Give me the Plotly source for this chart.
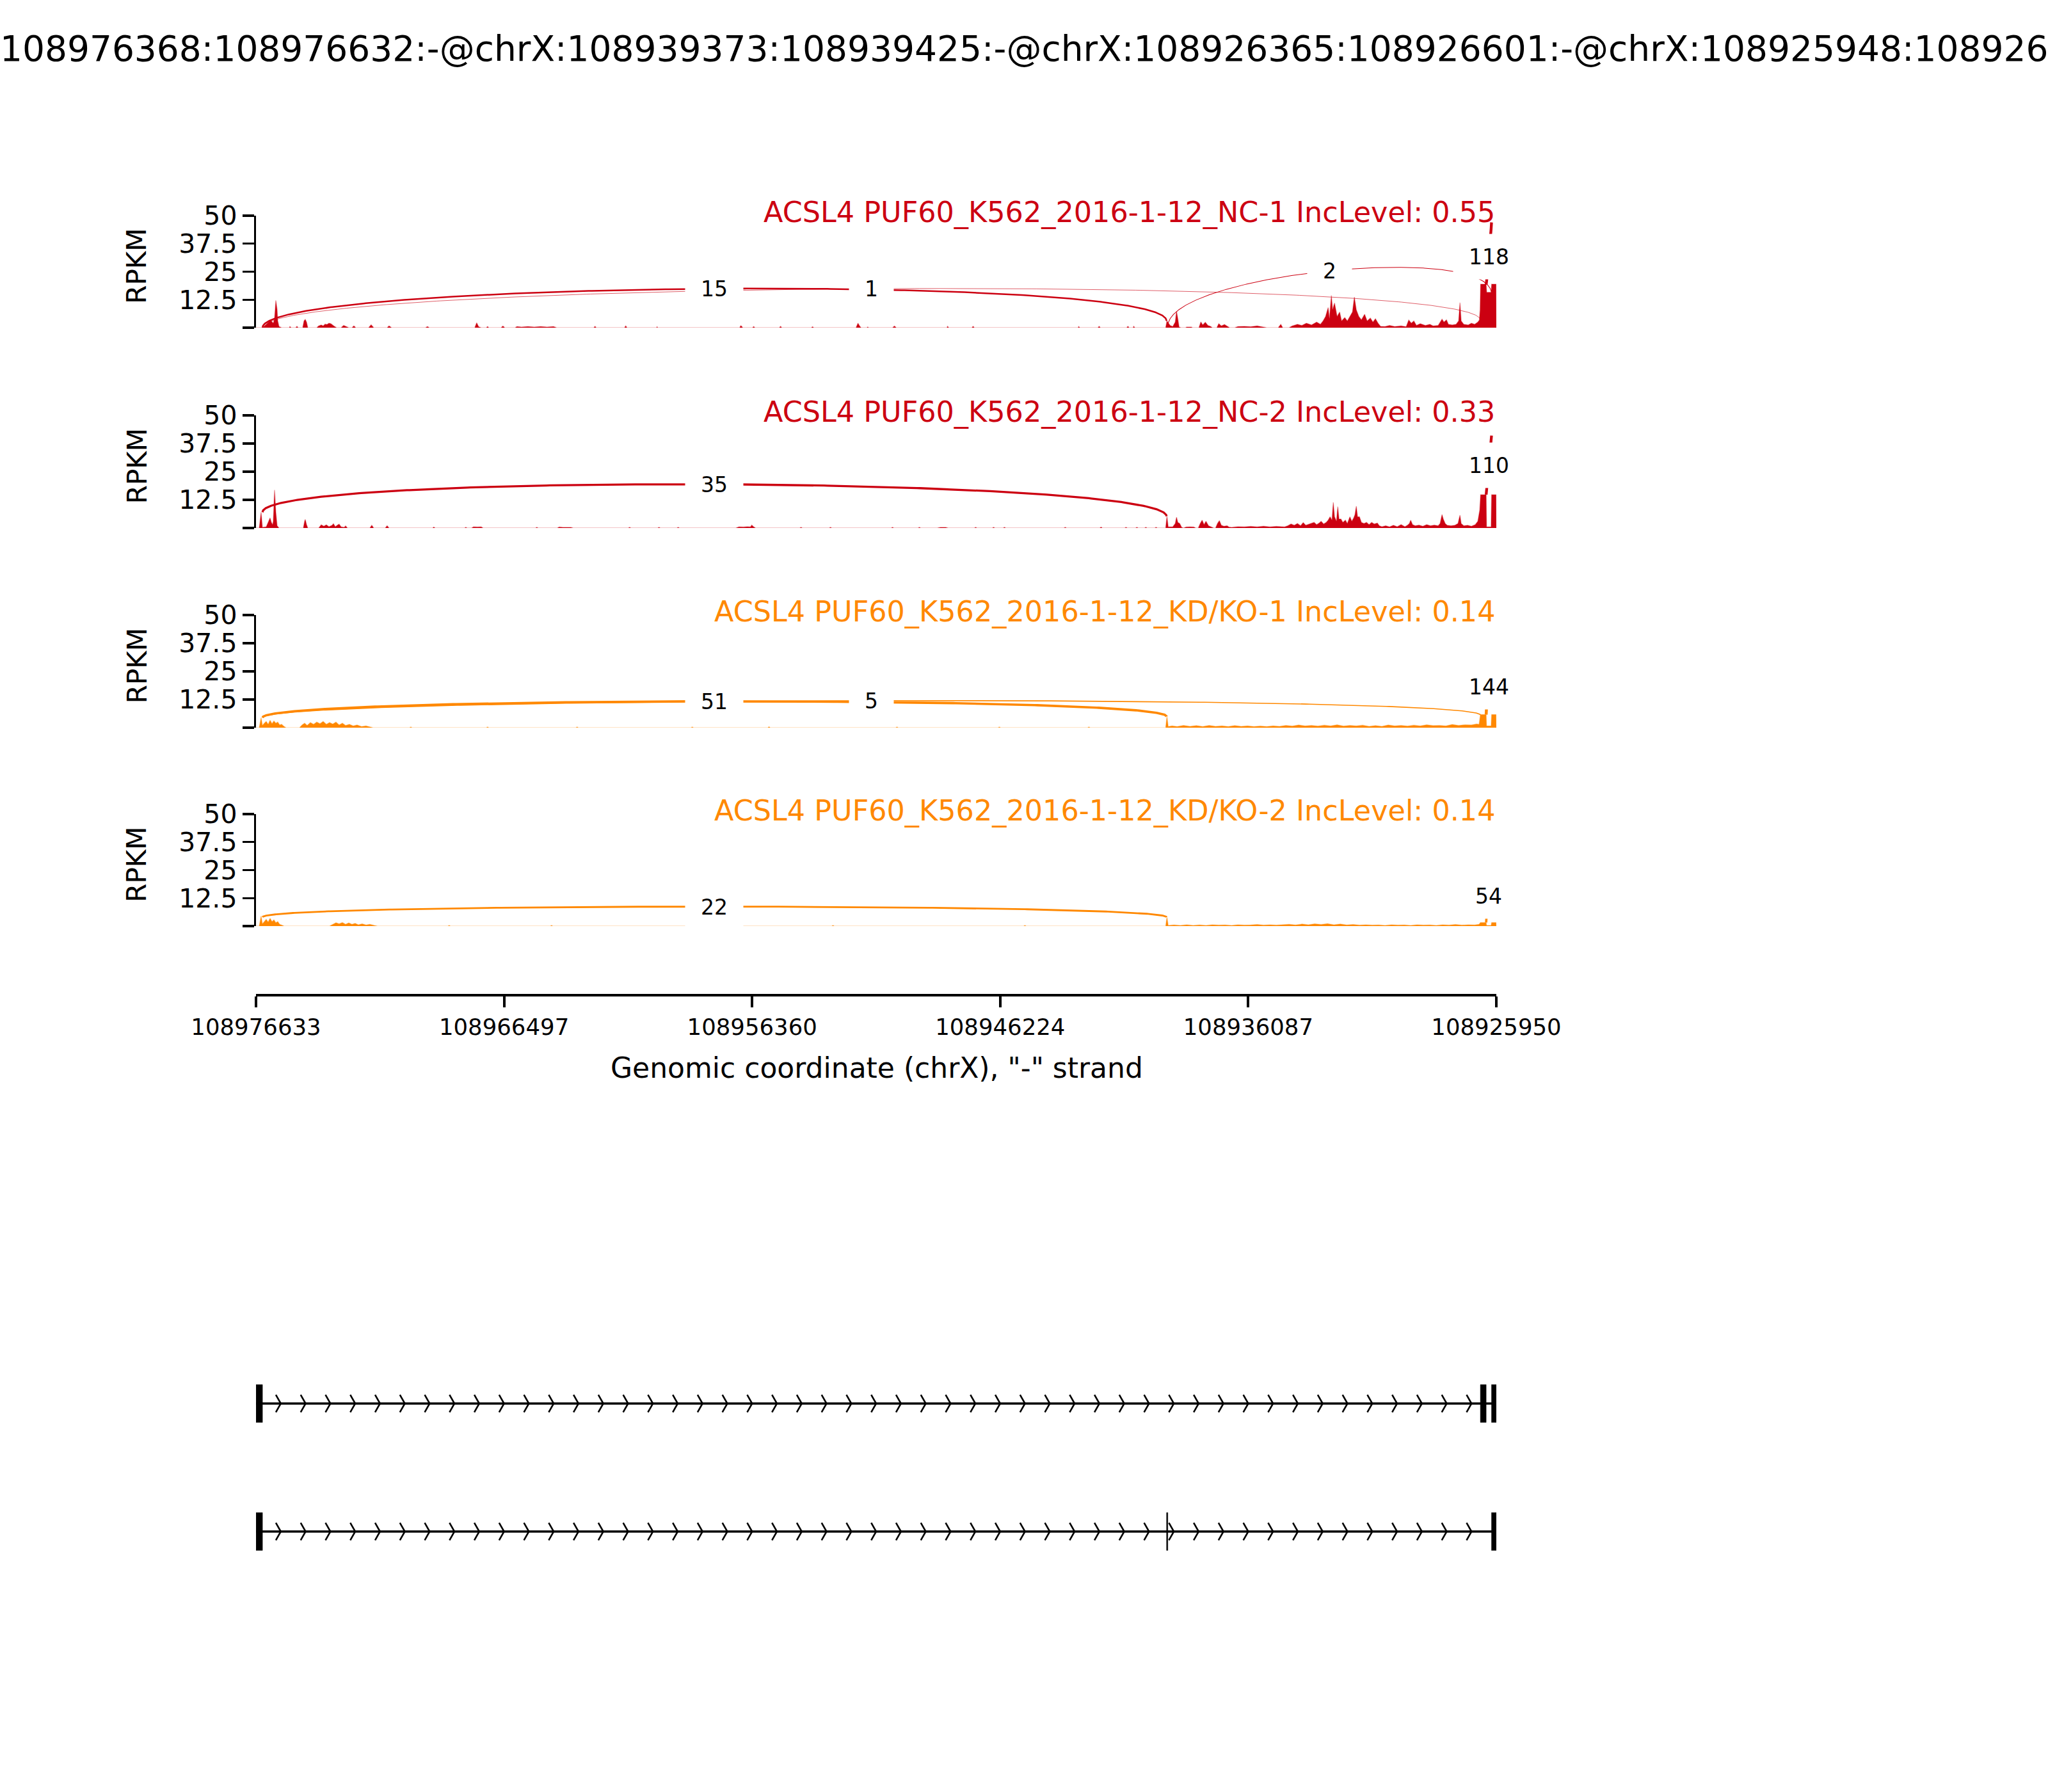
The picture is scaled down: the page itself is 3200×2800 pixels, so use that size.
import numpy as np
import plotly.graph_objects as go

W, H = 3200, 2800
FONT = "DejaVu Sans"

# ---------------- data ----------------
region_left = 108976633      # left end of the (reversed, "-" strand) axis
region_right = 108925950

event_title = ("chrX:108976368:108976632:-@chrX:108939373:108939425:-@"
               "chrX:108926365:108926601:-@chrX:108925948:108926146:-")
x_tick_values = [108976633, 108966497, 108956360, 108946224, 108936087, 108925950]
x_tick_labels = [str(v) for v in x_tick_values]
y_tick_values = [0, 12.5, 25, 37.5, 50]
y_tick_labels = ["", "12.5", "25", "37.5", "50"]
x_label = 'Genomic coordinate (chrX), "-" strand'
y_label = "RPKM"

sample_titles = [
    "ACSL4 PUF60_K562_2016-1-12_NC-1 IncLevel: 0.55",
    "ACSL4 PUF60_K562_2016-1-12_NC-2 IncLevel: 0.33",
    "ACSL4 PUF60_K562_2016-1-12_KD/KO-1 IncLevel: 0.14",
    "ACSL4 PUF60_K562_2016-1-12_KD/KO-2 IncLevel: 0.14",
]
sample_colors = ["#CC0011", "#CC0011", "#FF8800", "#FF8800"]
sample_edge = ["rgba(204,0,17,0.3)", "rgba(204,0,17,0.3)",
               "rgba(255,136,0,0.3)", "rgba(255,136,0,0.3)"]

# coverage: (bp offset from region_left, RPKM)
cov_nc1 = [
    (0, 0), (261, 0), (366, 1.0), (471, 2.2), (549, 2.8), (601, 3.3), (654, 2.5), (706, 2.0),
    (758, 4.0), (810, 12.2), (863, 8.0), (889, 3.0), (941, 0.5), (1046, 0),
    (1359, 0), (1385, 0.5), (1438, 0), (1621, 0), (1673, 0.6), (1725, 0),
    (1908, 0), (1961, 3.0), (2013, 3.7), (2065, 2.5), (2117, 0),
    (2483, 0), (2562, 0.8), (2666, 1.2), (2745, 0.8), (2823, 1.6), (2902, 1.4), (2980, 2.0),
    (3058, 1.8), (3137, 1.0), (3215, 0.5), (3294, 0),
    (3477, 0), (3581, 1.0), (3686, 0.6), (3790, 0), (3921, 0), (3999, 0.8), (4078, 0),
    (4601, 0), (4705, 1.3), (4810, 0), (5359, 0), (5437, 0.8), (5542, 0),
    (6927, 0), (7006, 0.5), (7084, 0), (8940, 0), (9018, 2.2), (9097, 0.4), (9201, 0),
    (9410, 0), (9463, 0.5), (9515, 0), (10012, 0), (10090, 0.7), (10168, 0),
    (10587, 0), (10665, 0.5), (10848, 0.3), (11110, 0.5), (11371, 0.3), (11632, 0.5),
    (11894, 0.3), (12155, 0.5), (12286, 0),
    (13802, 0), (13854, 0.6), (13906, 0), (15057, 0), (15109, 0.8), (15161, 0),
    (16364, 0), (16390, 0.4), (16416, 0), (19762, 0), (19814, 0.9), (19893, 0),
    (20285, 0), (20337, 0.5), (20389, 0), (21383, 0), (21435, 0.6), (21487, 0),
    (22690, 0), (22742, 0.4), (22794, 0), (24519, 0), (24598, 2.0), (24676, 0.6), (24728, 0),
    (24964, 0), (24990, 0.3), (25042, 0), (26009, 0), (26088, 0.7), (26166, 0),
    (28231, 0), (28258, 0.6), (28310, 0), (29251, 0), (29303, 0.6), (29355, 0),
    (33590, 0), (33616, 0.5), (33668, 0), (34400, 0), (34453, 0.6), (34505, 0),
    (35577, 0), (35629, 0.6), (35681, 0), (35838, 0), (35864, 0.6), (35916, 0),
    (37171, 0), (37223, 3.0), (37354, 1.0), (37459, 0.5), (37563, 2.5), (37615, 7.4),
    (37668, 4.0), (37720, 0.3), (37798, 0),
    (37981, 0), (38034, 0.3), (38217, 0.3), (38269, 0),
    (38530, 0), (38609, 2.6), (38687, 1.2), (38792, 2.4), (38896, 1.0), (39001, 0.6), (39079, 0),
    (39262, 0), (39341, 1.8), (39445, 0.8), (39576, 1.4), (39707, 0.5), (39785, 0),
    (39994, 0), (40125, 0.5), (40386, 0.6), (40648, 0.4), (40909, 0.8), (41171, 0.4), (41301, 0),
    (41772, 0), (41876, 1.5), (41955, 0),
    (42216, 0), (42347, 0.8), (42556, 1.5), (42739, 1.0), (42922, 2.0), (43131, 1.2),
    (43340, 2.5), (43497, 1.5), (43602, 3.0), (43706, 5.0), (43811, 9.0), (43863, 4.0),
    (43942, 14.4), (43994, 8.0), (44072, 11.0), (44177, 5.0), (44281, 7.0), (44360, 3.0),
    (44490, 4.5), (44595, 3.0), (44699, 5.0), (44804, 7.0), (44882, 13.7), (44961, 8.0),
    (45065, 5.0), (45170, 3.5), (45301, 6.0), (45405, 3.0), (45536, 4.3), (45640, 2.5),
    (45745, 4.0), (45850, 2.0), (45954, 0.6),
    (46137, 0.5), (46320, 1.0), (46529, 0.5), (46791, 0.8), (46999, 0.4), (47104, 3.4),
    (47209, 2.0), (47313, 3.0), (47418, 1.0), (47575, 1.8), (47784, 1.0), (47967, 1.5),
    (48098, 0.8), (48307, 1.0), (48464, 3.8), (48542, 2.5), (48647, 3.5), (48725, 1.5),
    (48882, 1.2), (49039, 1.5), (49143, 3.0), (49196, 11.2), (49248, 3.0), (49352, 1.5),
    (49535, 1.2), (49666, 2.0), (49797, 1.5), (49927, 2.5), (49990, 3.4), (50020, 8.0),
    (50040, 19.4), (50268, 19.4), (50290, 15.8), (50470, 15.8), (50490, 19.4), (50675, 19.4),
    (50683, 0),
]
cov_nc2 = [
    (0, 0), (131, 0), (209, 7.0), (261, 0.3), (418, 0.5), (523, 3.0), (575, 4.5), (627, 2.5),
    (680, 1.5), (706, 3.0), (758, 16.9), (810, 7.0), (863, 1.0), (941, 0),
    (1934, 0), (1987, 3.0), (2013, 3.8), (2065, 1.5), (2117, 0),
    (2562, 0), (2666, 1.4), (2771, 0.8), (2875, 1.4), (2980, 0.6), (3111, 1.2), (3163, 1.9),
    (3241, 0.6), (3346, 1.4), (3398, 1.7), (3477, 0.5), (3607, 0.3), (3660, 0.95), (3738, 0),
    (4653, 0), (4731, 1.2), (4810, 0), (5280, 0), (5359, 1.0), (5437, 0),
    (7215, 0), (7267, 0.4), (7319, 0), (8522, 0), (8574, 0.3), (8626, 0),
    (8809, 0), (8888, 0.5), (9044, 0.4), (9201, 0.5), (9280, 0),
    (11423, 0), (11475, 0.3), (11528, 0),
    (12312, 0), (12390, 0.4), (12547, 0.3), (12704, 0.4), (12861, 0.3), (12965, 0),
    (15213, 0), (15266, 0.3), (15318, 0), (16416, 0), (16468, 0.3), (16520, 0),
    (17200, 0), (17252, 0.3), (17305, 0),
    (19605, 0), (19736, 0.5), (19919, 0.4), (20075, 0.6), (20206, 0.5), (20258, 1.3),
    (20337, 0.5), (20415, 0),
    (22219, 0), (22271, 0.3), (22324, 0), (23421, 0), (23474, 0.3), (23526, 0),
    (25957, 0), (26009, 0.3), (26061, 0), (27055, 0), (27107, 0.3), (27159, 0),
    (27839, 0), (27970, 0.3), (28179, 0.3), (28284, 0), (29355, 0), (29407, 0.3), (29460, 0),
    (30087, 0), (30139, 0.3), (30192, 0), (30532, 0), (30584, 0.3), (30636, 0),
    (33015, 0), (33067, 0.3), (33119, 0), (34478, 0), (34531, 0.4), (34583, 0),
    (35498, 0), (35550, 0.3), (35603, 0), (35943, 0), (35995, 0.3), (36048, 0),
    (36309, 0), (36361, 0.3), (36413, 0), (36727, 0), (36779, 0.3), (36832, 0),
    (37171, 0), (37223, 5.2), (37276, 0.5), (37459, 0.5), (37563, 2.0), (37615, 4.8),
    (37668, 2.5), (37746, 2.0), (37825, 0.3), (37903, 0),
    (38008, 0.4), (38165, 0.5), (38322, 0.4), (38400, 0),
    (38504, 0), (38583, 2.0), (38661, 3.5), (38740, 1.5), (38818, 3.0), (38923, 1.0),
    (39027, 0.5), (39132, 0),
    (39210, 0), (39289, 2.0), (39367, 3.3), (39445, 1.2), (39550, 0.8), (39681, 1.0), (39759, 0.4),
    (39864, 0.3), (40125, 0.6), (40386, 0.5), (40648, 0.7), (40909, 0.5), (41171, 0.8),
    (41432, 0.5), (41693, 0.7), (41876, 0.6),
    (42033, 0.5), (42164, 1.0), (42294, 1.8), (42425, 1.2), (42556, 2.0), (42686, 1.0),
    (42791, 2.4), (42896, 1.2), (42974, 1.5), (43105, 2.0), (43236, 2.5), (43340, 1.5),
    (43445, 2.2), (43523, 3.0), (43628, 1.8), (43732, 2.5), (43811, 3.5), (43889, 5.0),
    (43968, 3.5), (44020, 11.4), (44072, 5.0), (44151, 3.0), (44203, 9.5), (44255, 4.0),
    (44334, 4.0), (44412, 2.5), (44517, 3.5), (44595, 2.0), (44699, 5.0), (44778, 3.0),
    (44856, 4.5), (44908, 6.0), (44961, 9.7), (45013, 5.0), (45091, 5.0), (45170, 2.5),
    (45275, 2.0), (45379, 2.5), (45484, 1.5), (45588, 2.5), (45693, 1.8), (45823, 2.2),
    (45902, 1.0),
    (46006, 0.6), (46163, 1.0), (46320, 0.5), (46477, 1.2), (46634, 0.6), (46791, 1.5),
    (46947, 0.6), (47052, 1.2), (47130, 2.0), (47183, 3.5), (47261, 1.5), (47366, 1.0),
    (47523, 1.3), (47680, 0.8), (47837, 1.5), (47993, 1.0), (48150, 1.3), (48307, 1.0),
    (48385, 2.0), (48464, 6.0), (48516, 4.0), (48595, 2.0), (48673, 1.2), (48830, 1.0),
    (48987, 1.2), (49117, 2.0), (49196, 5.7), (49248, 2.0), (49352, 1.0), (49509, 1.2),
    (49666, 0.8), (49823, 1.5), (49927, 3.0), (50006, 8.0),
    (50040, 14.8), (50268, 14.8), (50285, 0.5), (50470, 0.5), (50490, 14.8), (50675, 14.8),
    (50683, 0),
]
cov_kd1 = [
    (0, 0), (131, 0), (209, 4.5), (261, 1.0), (340, 2.0), (418, 2.8), (497, 1.5), (575, 3.3),
    (654, 1.8), (732, 3.0), (810, 2.0), (889, 2.5), (967, 1.2), (1046, 1.5), (1150, 0.5), (1229, 0),
    (1778, 0), (1882, 1.2), (1987, 2.0), (2091, 1.0), (2222, 2.3), (2353, 1.5), (2483, 2.5),
    (2614, 1.8), (2745, 2.8), (2875, 1.5), (3006, 2.3), (3137, 1.6), (3268, 2.5), (3398, 1.2),
    (3529, 2.0), (3660, 1.0), (3816, 1.5), (3973, 0.8), (4130, 1.2), (4313, 0.5), (4496, 0.8),
    (4653, 0.3), (4784, 0),
    (6274, 0), (6326, 0.3), (6378, 0), (9410, 0), (9463, 0.3), (9515, 0),
    (13070, 0), (13122, 0.3), (13174, 0), (17775, 0), (17827, 0.3), (17880, 0),
    (20912, 0), (20964, 0.4), (21017, 0), (26140, 0), (26192, 0.3), (26245, 0),
    (30322, 0), (30375, 0.3), (30427, 0), (33982, 0), (34034, 0.3), (34087, 0),
    (37171, 0), (37223, 5.0), (37276, 0.5), (37433, 0.8), (37642, 0.5), (37903, 1.0),
    (38165, 0.6), (38426, 0.9), (38687, 0.5), (38949, 1.0), (39210, 0.6), (39471, 0.8),
    (39733, 0.5), (39994, 0.9), (40256, 0.6), (40517, 0.8), (40779, 0.5), (41040, 0.7),
    (41301, 0.5), (41563, 0.8), (41824, 0.6), (42085, 1.0), (42347, 0.7), (42608, 1.2),
    (42870, 0.8), (43131, 1.0), (43392, 0.7), (43654, 1.1), (43915, 0.8), (44177, 1.3),
    (44438, 0.7), (44699, 1.0), (44961, 0.8), (45222, 1.1), (45484, 0.6), (45745, 0.9),
    (46006, 0.6), (46268, 1.2), (46529, 0.8), (46791, 1.0), (47052, 0.7), (47313, 1.1),
    (47575, 0.8), (47837, 1.3), (48098, 0.9), (48359, 1.0), (48621, 0.8), (48882, 1.4),
    (49143, 1.0), (49405, 1.3), (49666, 1.2), (49875, 1.6), (49979, 1.5),
    (50032, 5.8), (50268, 5.8), (50285, 0.8), (50470, 0.8), (50490, 5.8), (50675, 5.8),
    (50683, 0),
]
cov_kd2 = [
    (0, 0), (131, 0), (209, 4.5), (261, 1.0), (340, 2.0), (418, 3.0), (497, 1.8), (575, 3.5),
    (654, 2.0), (732, 2.8), (810, 1.5), (889, 2.0), (967, 0.8), (1072, 0.3), (1150, 0),
    (3006, 0), (3137, 0.8), (3268, 1.5), (3398, 1.0), (3529, 1.6), (3660, 0.8), (3790, 1.4),
    (3921, 0.8), (4052, 1.2), (4182, 0.6), (4339, 1.0), (4496, 0.5), (4653, 0.8), (4836, 0.3),
    (4967, 0),
    (7842, 0), (7894, 0.3), (7947, 0), (12024, 0), (12077, 0.3), (12129, 0),
    (18298, 0), (18350, 0.3), (18403, 0), (23526, 0), (23578, 0.3), (23631, 0),
    (31368, 0), (31420, 0.3), (31473, 0),
    (37171, 0), (37223, 4.0), (37276, 0.3), (37511, 0.5), (37772, 0.3), (38034, 0.6),
    (38295, 0.3), (38557, 0.5), (38818, 0.3), (39079, 0.6), (39341, 0.4), (39602, 0.5),
    (39864, 0.3), (40125, 0.6), (40386, 0.4), (40648, 0.5), (40909, 0.7), (41171, 0.4),
    (41432, 0.6), (41693, 0.4), (41955, 0.5), (42216, 0.8), (42478, 0.5), (42739, 0.9),
    (43000, 0.6), (43262, 1.0), (43523, 0.7), (43784, 1.1), (44046, 0.6), (44308, 0.9),
    (44569, 0.5), (44830, 0.7), (45092, 0.4), (45353, 0.6), (45615, 0.4), (45876, 0.5),
    (46137, 0.3), (46399, 0.6), (46660, 0.4), (46922, 0.5), (47183, 0.3), (47445, 0.6),
    (47706, 0.4), (47967, 0.5), (48229, 0.3), (48490, 0.6), (48751, 0.4), (49013, 0.7),
    (49274, 0.4), (49535, 0.6), (49797, 0.5), (49979, 0.8),
    (50032, 1.6), (50268, 1.6), (50285, 0.3), (50470, 0.3), (50490, 1.6), (50675, 1.6),
    (50683, 0),
]
coverages = [cov_nc1, cov_nc2, cov_kd1, cov_kd2]

# junctions: exon1->exon2, exon1->exon3, exon2->exon4, exon3->exon4
jxn_donor = [108976368, 108976368, 108939373, 108926365]
jxn_acceptor = [108939425, 108926601, 108926146, 108926146]

jxn_nc1_count = [15, 1, 2, 118]
jxn_nc1_left = [0.0, 0.0, 0.6, 19.4]
jxn_nc1_right = [3.0, 3.4, 15.0, 47.0]
jxn_nc1_label_y = [17.4, 17.4, 25.4, 31.7]

jxn_nc2_count = [35, None, None, 110]
jxn_nc2_left = [7.0, None, None, 14.8]
jxn_nc2_right = [5.2, None, None, 41.0]
jxn_nc2_label_y = [19.4, None, None, 27.7]

jxn_kd1_count = [51, 5, None, 144]
jxn_kd1_left = [4.5, 4.5, None, 5.8]
jxn_kd1_right = [5.0, 5.6, None, 16.9]
jxn_kd1_label_y = [11.7, 12.0, None, 18.3]

jxn_kd2_count = [22, None, None, 54]
jxn_kd2_left = [4.0, None, None, 1.6]
jxn_kd2_right = [4.0, None, None, 15.8]
jxn_kd2_label_y = [8.7, None, None, 13.4]

jxn_tables = [
    (jxn_nc1_count, jxn_nc1_left, jxn_nc1_right, jxn_nc1_label_y),
    (jxn_nc2_count, jxn_nc2_left, jxn_nc2_right, jxn_nc2_label_y),
    (jxn_kd1_count, jxn_kd1_left, jxn_kd1_right, jxn_kd1_label_y),
    (jxn_kd2_count, jxn_kd2_left, jxn_kd2_right, jxn_kd2_label_y),
]

# isoforms (exon start, end)
iso1_exons = [(108976368, 108976632), (108926365, 108926601), (108925948, 108926146)]
iso2_exons = [(108976368, 108976632), (108939373, 108939425), (108925948, 108926146)]
isoforms = [iso1_exons, iso2_exons]

# ---------------- layout geometry (pixels) ----------------
plot_left_px, plot_right_px = 400, 2338
panel_top_px = [337, 649, 961, 1272]
panel_bot_px = [512, 825, 1137, 1447]
xaxis_line_px = 1555
gene_top_px, gene_bot_px = 2093, 2493


def px_x(x):
    return x / W


def px_y(y):
    return 1 - y / H


xdom = [px_x(plot_left_px), px_x(plot_right_px)]

fig = go.Figure()
annotations = []
layout = dict(
    width=W, height=H, margin=dict(l=0, r=0, t=0, b=0, pad=0, autoexpand=False),
    paper_bgcolor="white", plot_bgcolor="white", showlegend=False,
    font=dict(family=FONT, color="black"),
)

for i in range(4):
    xn = "x" if i == 0 else f"x{i+1}"
    yn = "y" if i == 0 else f"y{i+1}"
    xk = "xaxis" if i == 0 else f"xaxis{i+1}"
    yk = "yaxis" if i == 0 else f"yaxis{i+1}"
    color = sample_colors[i]

    # coverage
    off, val = zip(*coverages[i])
    xs = [region_left - o for o in off]
    fig.add_trace(go.Scatter(
        x=xs, y=list(val), mode="lines", fill="tozeroy", fillcolor=color,
        line=dict(color=sample_edge[i], width=1.5), xaxis=xn, yaxis=yn, hoverinfo="skip"))

    # junction arcs
    counts, lefts, rights, labys = jxn_tables[i]
    t = np.linspace(0, 1, 400)
    for j in range(len(counts)):
        if counts[j] is None:
            continue
        x1, x2 = jxn_donor[j], jxn_acceptor[j]
        ld, rd, peak = lefts[j], rights[j], labys[j]
        h = (peak - (ld + rd) / 2) / 0.75
        bx = x1 * (1 - t) ** 3 + 3 * x1 * (1 - t) ** 2 * t + 3 * x2 * (1 - t) * t ** 2 + x2 * t ** 3
        by = (ld * (1 - t) ** 3 + 3 * (ld + h) * (1 - t) ** 2 * t
              + 3 * (rd + h) * (1 - t) * t ** 2 + rd * t ** 3)
        lw = 2.1 * np.log10(counts[j] + 1)
        fig.add_trace(go.Scatter(x=bx, y=by, mode="lines", line=dict(color=color, width=lw),
                                 xaxis=xn, yaxis=yn, hoverinfo="skip"))
        txt = str(counts[j])
        annotations.append(dict(
            x=(x1 + x2) / 2, y=peak, xref=xn, yref=yn, text=txt, showarrow=False,
            font=dict(size=33, color="black", family=FONT), bgcolor="white",
            width=21 * len(txt) + 48, height=70, borderpad=0, xanchor="center", yanchor="middle"))

    # panel title
    hpx = panel_bot_px[i] - panel_top_px[i]
    annotations.append(dict(
        x=region_right, xref=xn, y=1 + 5 / hpx, yref=f"{yn} domain", text=sample_titles[i],
        showarrow=False, xanchor="right", yanchor="middle",
        font=dict(size=44.5, color=color, family=FONT)))
    # y label
    annotations.append(dict(
        x=px_x(214), xref="paper", y=0.55, yref=f"{yn} domain", text=y_label, textangle=-90,
        showarrow=False, xanchor="center", yanchor="middle",
        font=dict(size=42, color="black", family=FONT)))

    layout[yk] = dict(
        domain=[px_y(panel_bot_px[i]), px_y(panel_top_px[i])], anchor=xn, range=[0, 50],
        tickvals=y_tick_values, ticktext=y_tick_labels, ticks="outside", ticklen=18,
        tickwidth=3.3, tickcolor="black", showline=True, linewidth=3.3, linecolor="black",
        showgrid=False, zeroline=False, automargin=False,
        tickfont=dict(size=41, color="black", family=FONT))
    if i < 3:
        layout[xk] = dict(domain=xdom, range=[region_left, region_right], anchor=yn,
                          visible=False)
    else:
        layout[xk] = dict(
            domain=xdom, range=[region_left, region_right], anchor="free",
            position=px_y(xaxis_line_px), side="bottom", automargin=False,
            showline=True, linewidth=4, linecolor="black", ticks="outside", ticklen=17,
            tickwidth=4, tickcolor="black", tickvals=x_tick_values, ticktext=x_tick_labels,
            showgrid=False, zeroline=False, tickfont=dict(size=35.5, color="black", family=FONT))

# x label and main title
annotations.append(dict(
    x=px_x(1370), xref="paper", y=px_y(1668), yref="paper", text=x_label, showarrow=False,
    xanchor="center", yanchor="middle", font=dict(size=44, color="black", family=FONT)))
annotations.append(dict(
    x=0.5, xref="paper", y=px_y(76), yref="paper", text=event_title, showarrow=False,
    xanchor="center", yanchor="middle", font=dict(size=55, color="black", family=FONT)))

# ---------------- gene model tracks ----------------
iso_y = [1.5, 0.5]
exon_half = 0.1475
chev_dy = 0.0685
span = region_left - region_right
n_arrows = 50
spread = 0.2 * span / n_arrows
for k, exons in enumerate(isoforms):
    yc = iso_y[k]
    tx_hi = max(e for s, e in exons)
    tx_lo = min(s for s, e in exons)
    fig.add_trace(go.Scatter(x=[tx_hi, tx_lo], y=[yc, yc], mode="lines",
                             line=dict(color="black", width=3.5), xaxis="x5", yaxis="y5",
                             hoverinfo="skip"))
    cx, cy = [], []
    for a in range(1, n_arrows):
        loc = region_left - a * span / n_arrows
        cx += [loc + spread, loc, loc + spread, None]
        cy += [yc + chev_dy, yc, yc - chev_dy, None]
    fig.add_trace(go.Scatter(x=cx, y=cy, mode="lines", line=dict(color="black", width=2.6),
                             xaxis="x5", yaxis="y5", hoverinfo="skip"))
    for s, e in exons:
        fig.add_trace(go.Scatter(
            x=[s, e, e, s, s], y=[yc - exon_half, yc - exon_half, yc + exon_half, yc + exon_half,
                                   yc - exon_half],
            mode="lines", fill="toself", fillcolor="black", line=dict(color="black", width=0.5),
            xaxis="x5", yaxis="y5", hoverinfo="skip"))

layout["xaxis5"] = dict(domain=xdom, range=[region_left, region_right], anchor="y5",
                        visible=False)
layout["yaxis5"] = dict(domain=[px_y(gene_bot_px), px_y(gene_top_px)], range=[0, 2],
                        anchor="x5", visible=False)
layout["annotations"] = annotations
fig.update_layout(**layout)
fig.write_html("out.html", config={"displayModeBar": False, "staticPlot": True},
               post_script="document.body.style.margin='0px';")
